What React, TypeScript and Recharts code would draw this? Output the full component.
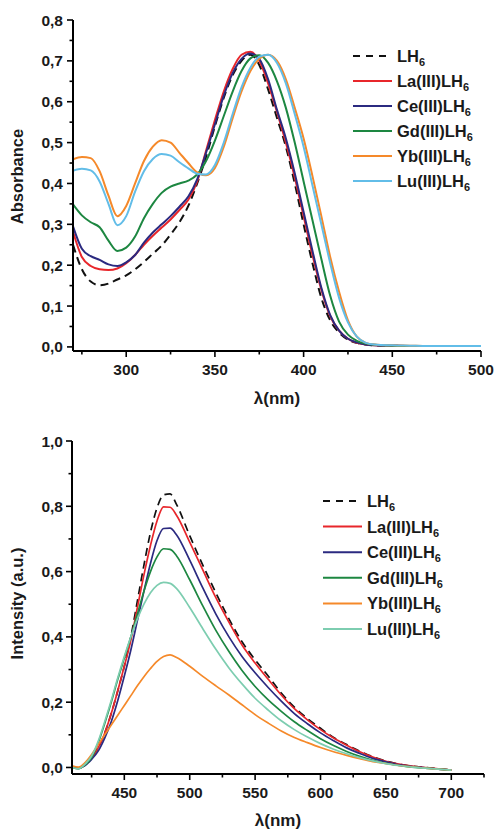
import React from "react";
import { LineChart, Line, XAxis, YAxis, Legend, Label } from "recharts";

const FONT = "'Liberation Sans', Arial, sans-serif";

// UV-vis absorbance (top panel)
const absWavelength = [
  270, 275, 280, 285, 290, 295, 300, 305, 310, 315, 320, 325, 330, 335, 340,
  345, 350, 355, 360, 365, 370, 375, 380, 385, 390, 395, 400, 405, 410, 415,
  420, 425, 430, 435, 440, 450, 460, 470, 480, 490, 500
];
const absLH6 = [
  0.25, 0.19, 0.16, 0.151, 0.155, 0.165, 0.175, 0.19, 0.208, 0.228, 0.248,
  0.275, 0.305, 0.345, 0.4, 0.465, 0.54, 0.61, 0.665, 0.7, 0.715, 0.69, 0.63,
  0.56, 0.49, 0.4, 0.3, 0.205, 0.12, 0.065, 0.035, 0.018, 0.01, 0.006, 0.004,
  0.003, 0.002, 0.002, 0.002, 0.002, 0.002
];
const absLa = [
  0.282, 0.22, 0.198, 0.19, 0.188, 0.192, 0.205, 0.225, 0.25, 0.272, 0.292,
  0.312, 0.335, 0.36, 0.405, 0.48, 0.555, 0.625, 0.68, 0.715, 0.722, 0.7,
  0.645, 0.575, 0.5, 0.415, 0.32, 0.225, 0.14, 0.075, 0.04, 0.02, 0.01, 0.006,
  0.004, 0.003, 0.002, 0.002, 0.002, 0.002, 0.002
];
const absCe = [
  0.295, 0.24, 0.222, 0.213, 0.202, 0.198, 0.207, 0.225, 0.255, 0.28, 0.3,
  0.32, 0.343, 0.368, 0.41, 0.475, 0.545, 0.615, 0.67, 0.705, 0.718, 0.705,
  0.655, 0.58, 0.51, 0.425, 0.33, 0.235, 0.145, 0.078, 0.04, 0.02, 0.011,
  0.006, 0.004, 0.003, 0.002, 0.002, 0.002, 0.002, 0.002
];
const absGd = [
  0.349, 0.322, 0.305, 0.293, 0.26, 0.235, 0.243, 0.27, 0.315, 0.35, 0.377,
  0.392, 0.4, 0.407, 0.422, 0.455, 0.505, 0.565, 0.625, 0.675, 0.706, 0.714,
  0.695, 0.65, 0.585, 0.5, 0.405, 0.31, 0.215, 0.125, 0.062, 0.03, 0.015,
  0.008, 0.005, 0.003, 0.002, 0.002, 0.002, 0.002, 0.002
];
const absYb = [
  0.459, 0.465, 0.462, 0.43, 0.37, 0.32, 0.345, 0.4, 0.455, 0.49, 0.506, 0.5,
  0.475, 0.45, 0.427, 0.42, 0.438, 0.49, 0.56, 0.625, 0.675, 0.705, 0.715,
  0.7, 0.655, 0.585, 0.51, 0.418, 0.32, 0.22, 0.135, 0.065, 0.025, 0.01,
  0.006, 0.004, 0.003, 0.002, 0.002, 0.002, 0.002
];
const absLu = [
  0.431, 0.436, 0.432, 0.405, 0.35, 0.298, 0.32, 0.38, 0.43, 0.46, 0.472,
  0.468, 0.452, 0.437, 0.424, 0.422, 0.445, 0.5, 0.57, 0.635, 0.683, 0.71,
  0.715, 0.695, 0.645, 0.57, 0.49, 0.395, 0.3, 0.205, 0.12, 0.06, 0.025, 0.01,
  0.006, 0.004, 0.003, 0.002, 0.002, 0.002, 0.002
];

// Emission (bottom panel)
const emWavelength = [
  410, 415, 420, 425, 430, 435, 440, 445, 450, 455, 460, 465, 470, 475, 480,
  485, 490, 500, 510, 520, 530, 540, 550, 560, 570, 580, 590, 600, 610, 620,
  630, 640, 650, 660, 670, 680, 690, 700
];
const emLH6 = [
  0.003, -0.002, 0.008, 0.03, 0.06, 0.105, 0.165, 0.235, 0.31, 0.4, 0.51,
  0.62, 0.72, 0.795, 0.835, 0.838, 0.805, 0.71, 0.62, 0.535, 0.455, 0.385,
  0.33, 0.28, 0.228, 0.185, 0.15, 0.12, 0.092, 0.07, 0.05, 0.033, 0.02, 0.01,
  0.004, 0.0, -0.004, -0.008
];
const emLa = [
  0.003, -0.002, 0.008, 0.03, 0.06, 0.105, 0.165, 0.235, 0.31, 0.39, 0.49,
  0.59, 0.68, 0.755, 0.798, 0.797, 0.772, 0.69, 0.605, 0.52, 0.445, 0.375,
  0.32, 0.27, 0.222, 0.18, 0.146, 0.116, 0.09, 0.068, 0.048, 0.032, 0.019,
  0.01, 0.004, 0.0, -0.004, -0.008
];
const emCe = [
  0.003, -0.002, 0.006, 0.025, 0.05, 0.09, 0.14, 0.205, 0.28, 0.36, 0.45,
  0.54, 0.625, 0.695, 0.732, 0.733, 0.712, 0.635, 0.55, 0.47, 0.4, 0.34, 0.29,
  0.245, 0.203, 0.165, 0.134, 0.106, 0.082, 0.06, 0.043, 0.028, 0.017, 0.008,
  0.003, -0.001, -0.005, -0.008
];
const emGd = [
  0.0, -0.004, 0.008, 0.03, 0.075, 0.135, 0.2, 0.27, 0.335, 0.4, 0.47, 0.54,
  0.6, 0.645, 0.67, 0.668, 0.648, 0.575, 0.495, 0.42, 0.355, 0.297, 0.248,
  0.207, 0.172, 0.14, 0.113, 0.088, 0.067, 0.049, 0.034, 0.022, 0.013, 0.006,
  0.001, -0.002, -0.005, -0.008
];
const emYb = [
  0.005, 0.001, 0.015, 0.04, 0.07, 0.1, 0.13, 0.16, 0.19, 0.22, 0.25, 0.278,
  0.303, 0.325, 0.34, 0.345, 0.337, 0.31, 0.279, 0.25, 0.222, 0.192, 0.162,
  0.136, 0.112, 0.092, 0.076, 0.061, 0.048, 0.037, 0.027, 0.018, 0.012, 0.006,
  0.002, -0.002, -0.005, -0.008
];
const emLu = [
  0.0, -0.004, 0.01, 0.035, 0.08, 0.14, 0.205, 0.275, 0.34, 0.4, 0.455, 0.5,
  0.535, 0.558, 0.567, 0.564, 0.548, 0.49, 0.425, 0.362, 0.305, 0.256, 0.212,
  0.176, 0.143, 0.116, 0.093, 0.073, 0.056, 0.042, 0.03, 0.02, 0.012, 0.006,
  0.001, -0.002, -0.005, -0.008
];

// ticks
const absXTicks = [275, 300, 325, 350, 375, 400, 425, 450, 475, 500];
const absXMajor = [300, 350, 400, 450, 500];
const absYTicks = [
  0, 0.05, 0.1, 0.15, 0.2, 0.25, 0.3, 0.35, 0.4, 0.45, 0.5, 0.55, 0.6, 0.65,
  0.7, 0.75, 0.8
];
const absYMajor = [0, 0.1, 0.2, 0.3, 0.4, 0.5, 0.6, 0.7, 0.8];
const emXTicks = [425, 450, 475, 500, 525, 550, 575, 600, 625, 650, 675, 700, 725];
const emXMajor = [450, 500, 550, 600, 650, 700];
const emYTicks = [0, 0.1, 0.2, 0.3, 0.4, 0.5, 0.6, 0.7, 0.8, 0.9, 1.0];
const emYMajor = [0, 0.2, 0.4, 0.6, 0.8, 1.0];

const seriesNames = ["LH6", "La", "Ce", "Gd", "Yb", "Lu"];
const seriesLabels = ["", "La(III)", "Ce(III)", "Gd(III)", "Yb(III)", "Lu(III)"];
const absColors = ["#111111", "#e8262b", "#2b2a80", "#1d8741", "#f5892a", "#62bde8"];
const emColors = ["#111111", "#e8262b", "#2b2a80", "#1d8741", "#f5892a", "#7dcdb0"];

const absRows = absWavelength.map((nm, i) => ({
  nm,
  LH6: absLH6[i],
  La: absLa[i],
  Ce: absCe[i],
  Gd: absGd[i],
  Yb: absYb[i],
  Lu: absLu[i]
}));

const emRows = emWavelength.map((nm, i) => ({
  nm,
  LH6: emLH6[i],
  La: emLa[i],
  Ce: emCe[i],
  Gd: emGd[i],
  Yb: emYb[i],
  Lu: emLu[i]
}));

const comma = (v: number) => v.toFixed(1).replace(".", ",");

function XTick(props: any) {
  const { x, y, payload, majors } = props;
  const major = majors.indexOf(payload.value) >= 0;
  return (
    <g>
      <line x1={x} x2={x} y1={y} y2={y + (major ? 6 : 3.5)} stroke="#000" strokeWidth={1.6} />
      {major && (
        <text x={x} y={y + 24} textAnchor="middle" fontFamily={FONT} fontWeight="bold" fontSize={15.5} fill="#1a1a1a">
          {payload.value}
        </text>
      )}
    </g>
  );
}

function YTick(props: any) {
  const { x, y, payload, majors, gap } = props;
  const major = majors.indexOf(payload.value) >= 0;
  return (
    <g>
      <line x1={x} x2={x - (major ? 6 : 3.5)} y1={y} y2={y} stroke="#000" strokeWidth={1.6} />
      {major && (
        <text x={x - gap} y={y + 5.5} textAnchor="end" fontFamily={FONT} fontWeight="bold" fontSize={15.5} fill="#1a1a1a">
          {comma(payload.value)}
        </text>
      )}
    </g>
  );
}

function XTitle(props: any) {
  const vb = props.viewBox;
  return (
    <text x={vb.x + vb.width / 2} y={vb.y + props.dy} textAnchor="middle" fontFamily={FONT} fontWeight="bold" fontSize={17} fill="#1a1a1a">
      λ(nm)
    </text>
  );
}

function YTitle(props: any) {
  const vb = props.viewBox;
  const cx = 17;
  const cy = vb.y + vb.height / 2 + props.shift;
  return (
    <text
      x={cx}
      y={cy}
      transform={`rotate(-90, ${cx}, ${cy})`}
      textAnchor="middle"
      dominantBaseline="central"
      fontFamily={FONT}
      fontWeight="bold"
      fontSize={16.5}
      fill="#1a1a1a"
    >
      {props.title}
    </text>
  );
}

function SeriesKey({ colors, gap }: { colors: string[]; gap: number }) {
  return (
    <svg width={150} height={170}>
      {seriesNames.map((name, i) => {
        const cy = 12 + i * gap;
        return (
          <g key={name}>
            <line
              x1={3}
              x2={42}
              y1={cy}
              y2={cy}
              stroke={colors[i]}
              strokeWidth={2}
              strokeDasharray={i === 0 ? "7 6" : undefined}
            />
            <text x={47} y={cy + 6} fontFamily={FONT} fontWeight="bold" fontSize={16.5} fill="#1a1a1a">
              {seriesLabels[i]}LH
              <tspan fontSize={11} dy={4}>6</tspan>
            </text>
          </g>
        );
      })}
    </svg>
  );
}

export default function App() {
  return (
    <div style={{ position: "absolute", left: 0, top: 0, width: 496, height: 830, background: "#fff" }}>
      <div style={{ position: "absolute", left: 0, top: 0 }}>
        <LineChart width={496} height={410} data={absRows} margin={{ top: 20, right: 15, bottom: 0, left: 0 }}>
          <XAxis
            dataKey="nm"
            type="number"
            domain={[270, 500]}
            ticks={absXTicks}
            interval={0}
            height={59}
            tickSize={0}
            tickMargin={0}
            axisLine={{ stroke: "#000", strokeWidth: 2 }}
            tickLine={false}
            tick={(p: any) => <XTick {...p} majors={absXMajor} />}
            allowDataOverflow
          >
            <Label content={(p: any) => <XTitle {...p} dy={53} />} />
          </XAxis>
          <YAxis
            type="number"
            domain={[-0.01, 0.8]}
            ticks={absYTicks}
            interval={0}
            width={73}
            tickSize={0}
            tickMargin={0}
            axisLine={{ stroke: "#000", strokeWidth: 2 }}
            tickLine={false}
            tick={(p: any) => <YTick {...p} majors={absYMajor} gap={10} />}
            allowDataOverflow
          >
            <Label content={(p: any) => <YTitle {...p} title="Absorbance" shift={-9} />} />
          </YAxis>
          <Legend
            layout="vertical"
            align="center"
            verticalAlign="middle"
            wrapperStyle={{ left: 350, top: 44, width: 150, height: 170 }}
            content={() => <SeriesKey colors={absColors} gap={25} />}
          />
          {seriesNames.map((name, i) => (
            <Line
              key={name}
              dataKey={name}
              type="monotone"
              stroke={absColors[i]}
              strokeWidth={2}
              strokeDasharray={i === 0 ? "8 5" : undefined}
              dot={false}
              isAnimationActive={false}
            />
          ))}
        </LineChart>
      </div>
      <div style={{ position: "absolute", left: 0, top: 420 }}>
        <LineChart width={496} height={410} data={emRows} margin={{ top: 21, right: 12, bottom: 0, left: 0 }}>
          <XAxis
            dataKey="nm"
            type="number"
            domain={[410, 725]}
            ticks={emXTicks}
            interval={0}
            height={56}
            tickSize={0}
            tickMargin={0}
            axisLine={{ stroke: "#000", strokeWidth: 2 }}
            tickLine={false}
            tick={(p: any) => <XTick {...p} majors={emXMajor} />}
            allowDataOverflow
          >
            <Label content={(p: any) => <XTitle {...p} dy={52} />} />
          </XAxis>
          <YAxis
            type="number"
            domain={[-0.02, 1.0]}
            ticks={emYTicks}
            interval={0}
            width={72}
            tickSize={0}
            tickMargin={0}
            axisLine={{ stroke: "#000", strokeWidth: 2 }}
            tickLine={false}
            tick={(p: any) => <YTick {...p} majors={emYMajor} gap={9} />}
            allowDataOverflow
          >
            <Label content={(p: any) => <YTitle {...p} title="Intensity (a.u.)" shift={-4} />} />
          </YAxis>
          <Legend
            layout="vertical"
            align="center"
            verticalAlign="middle"
            wrapperStyle={{ left: 320, top: 69, width: 150, height: 170 }}
            content={() => <SeriesKey colors={emColors} gap={25.6} />}
          />
          {seriesNames.map((name, i) => (
            <Line
              key={name}
              dataKey={name}
              type="monotone"
              stroke={emColors[i]}
              strokeWidth={1.7}
              strokeDasharray={i === 0 ? "8 5" : undefined}
              dot={false}
              isAnimationActive={false}
            />
          ))}
        </LineChart>
      </div>
    </div>
  );
}
